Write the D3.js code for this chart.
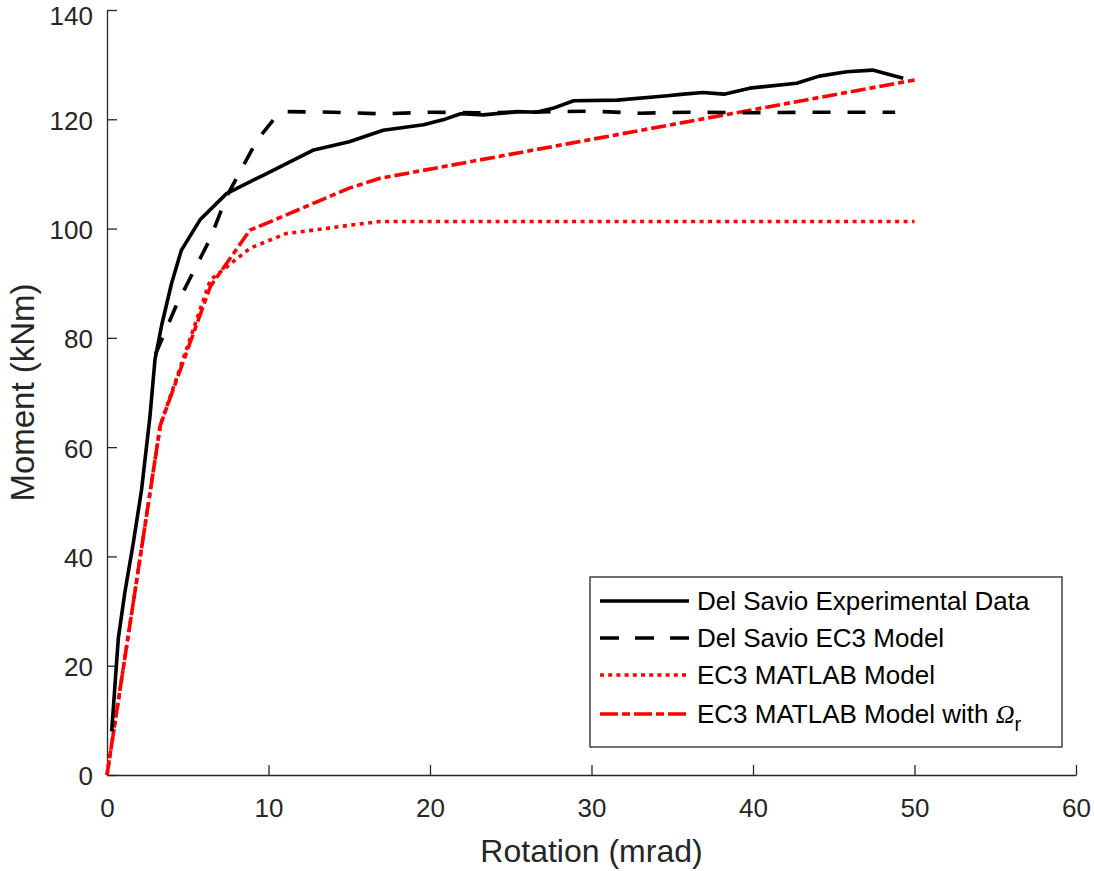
<!DOCTYPE html>
<html>
<head>
<meta charset="utf-8">
<script src="https://d3js.org/d3.v7.min.js"></script>
<style>
  body { margin: 0; background: #fff; }
  svg { font-family: "Liberation Sans", Arial, sans-serif; }
  .axis path, .axis line { stroke: #262626; stroke-width: 1.3; }
  .axis text { fill: #262626; font-size: 26px; }
</style>
</head>
<body>
<script>
// ---------------------------------------------------------------
// data read from the figure : rotation (mrad), moment (kNm)
// ---------------------------------------------------------------
var expRot = [0.29, 0.7, 1.1, 1.63, 2.14, 2.66, 2.97, 3.39, 4.0, 4.6, 5.76, 7.4, 9.7, 12.8, 15.0, 17.1, 19.6, 20.8, 21.9, 23.3, 25.4, 26.6, 27.6, 28.9, 31.6, 34.7, 35.7, 36.9, 38.2, 39.8, 42.7, 44.1, 45.8, 47.4, 49.3];
var expMom = [8, 25, 33.3, 42.5, 52.2, 65.6, 76, 82.4, 90, 96, 101.6, 106.4, 109.8, 114.4, 115.9, 118, 119, 119.9, 121, 120.8, 121.4, 121.3, 122, 123.4, 123.5, 124.3, 124.6, 124.9, 124.6, 125.7, 126.6, 127.9, 128.7, 129, 127.5];

var dsRot = [3.0, 4.3, 6.4, 7.4, 8.4, 9.3, 10.3, 11.1, 14, 17, 20, 23, 26, 30, 33, 36, 40, 44, 48.8];
var dsMom = [77, 86, 98.2, 105.8, 111.3, 116.2, 119.9, 121.4, 121.3, 121.0, 121.3, 121.2, 121.3, 121.5, 121.1, 121.3, 121.2, 121.3, 121.3];

var ec3Rot = [0, 3.3, 6.4, 8.85, 11.1, 13, 15, 16.9, 50];
var ec3Mom = [0, 64, 90.6, 96.4, 99.1, 99.8, 100.6, 101.3, 101.3];

var omRot = [0, 3.3, 6.4, 8.85, 11.1, 13, 15, 16.9, 50];
var omMom = [0, 64, 89.4, 99.7, 102.5, 104.9, 107.4, 109.2, 127.2];

var xTicks = [0, 10, 20, 30, 40, 50, 60];
var yTicks = [0, 20, 40, 60, 80, 100, 120, 140];

var seriesNames = ["Del Savio Experimental Data", "Del Savio EC3 Model", "EC3 MATLAB Model", "EC3 MATLAB Model with "];

// ---------------------------------------------------------------
var W = 1094, H = 871;
var plot = { left: 107, right: 1076, top: 10, bottom: 775 };

var svg = d3.select("body").append("svg").attr("width", W).attr("height", H);

var x = d3.scaleLinear().domain([0, 60]).range([plot.left, plot.right]);
var y = d3.scaleLinear().domain([0, 140]).range([plot.bottom, plot.top]);

svg.append("g").attr("class", "axis")
  .attr("transform", "translate(0," + plot.bottom + ")")
  .call(d3.axisBottom(x).tickValues(xTicks).tickSize(-10).tickSizeOuter(0).tickPadding(24));

svg.append("g").attr("class", "axis")
  .attr("transform", "translate(" + plot.left + ",0)")
  .call(d3.axisLeft(y).tickValues(yTicks).tickSize(-10).tickSizeOuter(0).tickPadding(14))
  .selectAll("text").attr("dy", function(d){ return d === 140 ? "0.54em" : "0.38em"; });

svg.append("text").attr("x", (plot.left + plot.right) / 2).attr("y", 862)
  .attr("text-anchor", "middle").style("font-size", "32px").style("fill", "#262626")
  .text("Rotation (mrad)");

svg.append("text").attr("transform", "translate(34," + ((plot.top + plot.bottom) / 2) + ") rotate(-90)")
  .attr("text-anchor", "middle").style("font-size", "33px").style("fill", "#262626")
  .text("Moment (kNm)");

var line = d3.line().x(function(d){ return x(d[0]); }).y(function(d){ return y(d[1]); });
function pairs(a, b){ return a.map(function(v, i){ return [v, b[i]]; }); }

var styles = [
  { color: "#000", dash: null },
  { color: "#000", dash: "18,17" },
  { color: "#ff0000", dash: "4,4.5" },
  { color: "#ff0000", dash: "15,4,6,4" }
];
var sets = [pairs(expRot, expMom), pairs(dsRot, dsMom), pairs(ec3Rot, ec3Mom), pairs(omRot, omMom)];

var drawOrder = [3, 2, 1, 0];
drawOrder.forEach(function(i){
  svg.append("path").datum(sets[i])
    .attr("d", line)
    .attr("fill", "none")
    .attr("stroke", styles[i].color)
    .attr("stroke-width", 3.6)
    .attr("stroke-linejoin", "round")
    .attr("stroke-dasharray", styles[i].dash);
});

// legend
var lg = svg.append("g");
lg.append("rect").attr("x", 590).attr("y", 577).attr("width", 472).attr("height", 170)
  .attr("fill", "#fff").attr("stroke", "#262626").attr("stroke-width", 1.3);

var rowY = [601, 638, 675, 714];
var legDash = [null, "19,16", "4,4.2", "18,4,8,4"];
seriesNames.forEach(function(name, i){
  lg.append("line").attr("x1", 600).attr("x2", 689).attr("y1", rowY[i]).attr("y2", rowY[i])
    .attr("stroke", styles[i].color).attr("stroke-width", 3.6)
    .attr("stroke-dasharray", legDash[i]);
  var t = lg.append("text").attr("x", 697).attr("y", rowY[i] + 9)
    .style("font-size", "26px").style("fill", "#000").text(name);
  if (i === 3) {
    t.append("tspan").style("font-family", "'Liberation Serif', serif").style("font-style", "italic").text("\u03A9");
    t.append("tspan").attr("dy", 8).style("font-size", "20px").text("r");
  }
});
</script>
</body>
</html>
